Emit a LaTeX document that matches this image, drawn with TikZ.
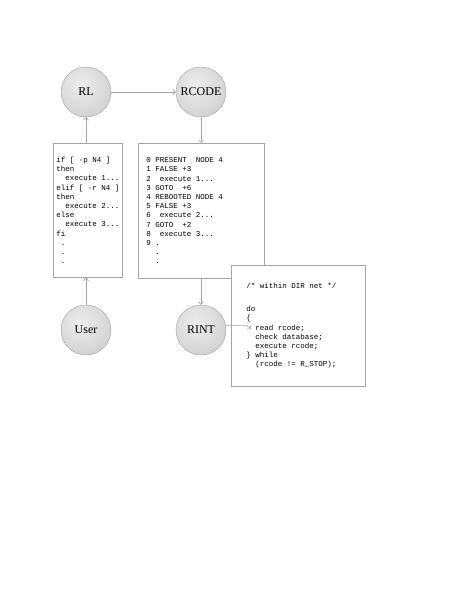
\documentclass[tikz,border=0pt]{standalone}
\usepackage{fontspec}
\usepackage{tikz}
\usetikzlibrary{arrows.meta, positioning}
\setmainfont{Liberation Serif}
\newfontfamily\codefont{Liberation Mono}
\newcommand{\codespace}{\hspace*{0.6em}}
\definecolor{rulegray}{HTML}{A4A4A4}
\pgfdeclareradialshading{orbshade}{\pgfpoint{-6bp}{8bp}}{color(0bp)=(gray!14); color(24bp)=(gray!30); color(52bp)=(gray!55); color(80bp)=(gray!55)}
\tikzset{
  orb/.style={circle, draw=gray!75, shading=orbshade, minimum size=50pt, inner sep=0pt, font=\fontsize{12}{14}\selectfont},
  codebox/.style={draw=rulegray, line width=0.7pt, fill=white, anchor=north west, align=left, inner ysep=0pt, font={\codefont\fontsize{7.5}{9.2}\selectfont\let~\codespace}},
  link/.style={draw=rulegray, line width=0.6pt, -{Straight Barb[length=2.5pt,width=5pt]}}
}

\begin{document}
\begin{tikzpicture}[x=1pt, y=1pt]
    \useasboundingbox (0,0) rectangle (463,-599);
    % Processes
    \node[orb] (RL) at (86,-92) {RL};
    \node[orb] (RCODE) at (201,-92) {RCODE};
    \node[orb] (User) at (86,-330) {User};
    \node[orb] (RINT) at (201,-330) {RINT};
    % Scripts
    \node[codebox, minimum width=69pt, minimum height=134pt, inner xsep=3pt, text width=63pt] (lbox) at (53,-143) {%
        \mbox{if~[~-p~N4~]}\\
        then\\
        ~~execute~1...\\
        \mbox{elif~[~-r~N4~]}\\
        then\\
        ~~execute~2...\\
        else\\
        ~~execute~3...\\
        fi\\
        ~.\\
        ~.\\
        ~.};
    \node[codebox, minimum width=126pt, minimum height=135pt, inner xsep=8pt, text width=110pt] (mbox) at (138,-143) {%
        0~PRESENT~~NODE~4\\
        1~FALSE~+3\\
        2~~execute~1...\\
        3~GOTO~~+6\\
        4~REBOOTED~NODE~4\\
        5~FALSE~+3\\
        6~~execute~2...\\
        7~GOTO~~+2\\
        8~~execute~3...\\
        9~.\\
        ~~.\\
        ~~.};
    \node[codebox, minimum width=134pt, minimum height=121pt, inner xsep=15pt, text width=104pt] (rbox) at (231,-265) {%
        /*~within~DIR~net~*/\\[14pt]
        do\\
        \{\\
        ~~read~rcode;\\
        ~~check~database;\\
        ~~execute~rcode;\\
        \}~while\\
        ~~(rcode~!=~R\_STOP);};
    \coordinate (readpt) at (251,-329);
    % Flow
    \draw[link] (RL) -- (RCODE);
    \draw[link] (lbox.north -| RL) -- (RL);
    \draw[link] (RCODE) -- (mbox.north -| RCODE);
    \draw[link] (User) -- (lbox.south -| User);
    \draw[link] (mbox.south -| RINT) -- (RINT);
    \draw[link] (RINT.10) -- ++(21,0) -- (readpt);
\end{tikzpicture}
\end{document}
